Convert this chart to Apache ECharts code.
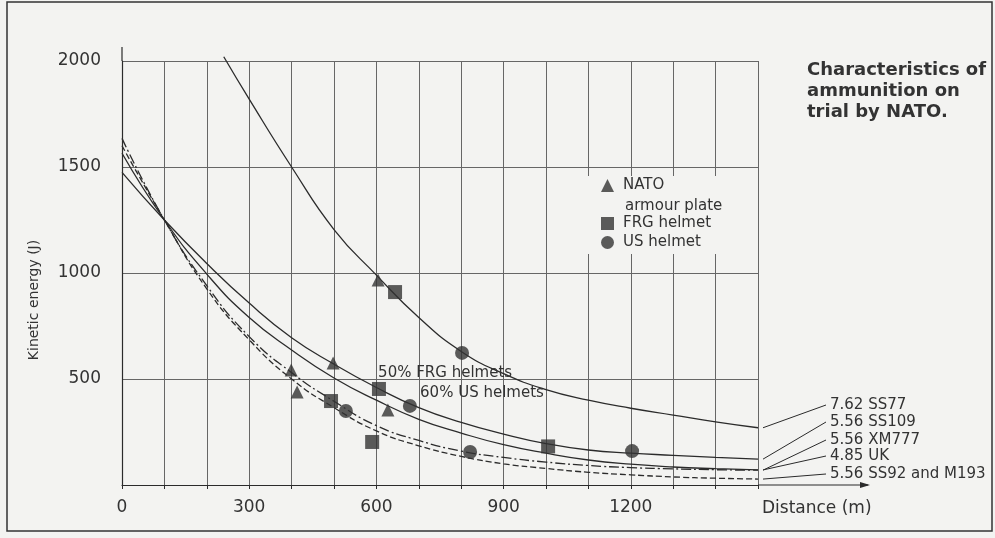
<!DOCTYPE html>
<html><head><meta charset="utf-8">
<script src="https://cdn.jsdelivr.net/npm/echarts@6/dist/echarts.min.js"></script>
<style>html,body{margin:0;padding:0;background:#f3f3f1}#c{width:995px;height:538px}</style>
</head><body><div id="c"></div>
<script>
// ---- data ----
const distance = [0,100,200,300,400,500,600,700,800,900,1000,1100,1200,1300,1400,1500];
const distanceSS77 = [240,300,400,500,600,700,800,900,1000,1100,1200,1300,1400,1500];
const ss77  = [2020,1820,1500,1205,990,790,630,525,450,400,362,330,298,270];
const ss109 = [1475,1250,1045,858,695,570,460,365,295,240,195,165,150,140,130,122];
const uk    = [1565,1250,995,790,637,505,400,310,245,190,150,118,98,85,77,71];
const xm777 = [1635,1250,940,700,530,395,280,210,160,130,108,92,82,76,72,70];
const ss92  = [1600,1250,925,685,500,365,255,185,135,100,78,60,48,38,32,28];

const natoDist = [399,413,498,604,627];
const natoKE   = [542,439,575,967,354];
const frgDist  = [644,606,493,590,1005];
const frgKE    = [910,453,396,203,182];
const usDist   = [802,679,528,821,1203];
const usKE     = [623,373,349,156,160];

const xTickLabels = [0,300,600,900,1200];
const yTickLabels = [500,1000,1500,2000];
const curveLabels = ['7.62 SS77','5.56 SS109','5.56 XM777','4.85 UK','5.56 SS92 and M193'];
const annotations = [['50% FRG helmets',604,528],['60% US helmets',703,434]];

const FONT = 'DejaVu Sans';
const INK = '#2b2b2b';
const zip = (a,b) => a.map((v,i)=>[v,b[i]]);

const lineSeries = (name, xs, ys, type) => ({
  name, type:'line', data: zip(xs, ys), smooth:0.5, symbol:'none', clip:false,
  lineStyle:{color:INK, width:1.3, type}, z:3, silent:true
});

const chart = echarts.init(document.getElementById('c'));
const option = {
  animation:false,
  backgroundColor:'#f3f3f1',
  grid:{left:122, right:237, top:61, bottom:53},
  xAxis:{type:'value', min:0, max:1500, interval:100,
    axisLine:{show:true, lineStyle:{color:INK, width:1.2}},
    axisTick:{show:true, length:4, lineStyle:{color:INK}},
    axisLabel:{margin:14, fontFamily:FONT, fontSize:17, color:'#333',
      formatter:v => xTickLabels.includes(v) ? String(v) : ''},
    splitLine:{show:true, lineStyle:{color:'#666', width:1}}},
  yAxis:{type:'value', min:0, max:2000, interval:500,
    axisLine:{show:true, lineStyle:{color:INK, width:1.2}},
    axisTick:{show:false},
    axisLabel:{margin:21, fontFamily:FONT, fontSize:17, color:'#333',
      formatter:v => yTickLabels.includes(v) ? String(v) : ''},
    splitLine:{show:true, lineStyle:{color:'#666', width:1}}},
  legend:[
    {data:['NATO armour plate'], formatter:()=>'NATO', left:601, top:177, orient:'vertical', padding:0,
     itemWidth:13, itemHeight:13, textStyle:{fontFamily:FONT, fontSize:15, color:'#333', lineHeight:17, padding:[0,0,0,4]}},
    {data:['FRG helmet','US helmet'], left:601, top:215, orient:'vertical', padding:0, itemGap:2,
     itemWidth:13, itemHeight:13, textStyle:{fontFamily:FONT, fontSize:15, color:'#333', lineHeight:17, padding:[0,0,0,4]}}
  ],
  series:[
    lineSeries('7.62 SS77', distanceSS77, ss77, 'solid'),
    lineSeries('5.56 SS109', distance, ss109, 'solid'),
    lineSeries('4.85 UK', distance, uk, 'solid'),
    lineSeries('5.56 XM777', distance, xm777, [10,3,2,3]),
    lineSeries('5.56 SS92 and M193', distance, ss92, [6,3]),
    {name:'NATO armour plate', type:'scatter', symbol:'triangle', symbolSize:13, data:zip(natoDist,natoKE), itemStyle:{color:'#333'}, z:5},
    {name:'FRG helmet', type:'scatter', symbol:'rect', symbolSize:14, data:zip(frgDist,frgKE), itemStyle:{color:'#333'}, z:5},
    {name:'US helmet', type:'scatter', symbol:'circle', symbolSize:14, data:zip(usDist,usKE), itemStyle:{color:'#333'}, z:5}
  ]
};
chart.setOption(option);

const px = p => chart.convertToPixel({gridIndex:0}, p);
const g = [];
// frame
g.push({type:'rect', shape:{x:7,y:2,width:985,height:529}, style:{fill:'none', stroke:'#333', lineWidth:1.5}, z:0});
// legend background
g.push({type:'rect', shape:{x:583,y:176,width:155,height:78}, style:{fill:'#f3f3f1'}, z:1});
g.push({type:'text', left:625, top:199, style:{text:'armour plate', font:'15px "DejaVu Sans"', fill:'#333'}, z:5});
// y axis title
g.push({type:'text', x:34, y:300, rotation:Math.PI/2, style:{text:'Kinetic energy (J)', font:'14px "DejaVu Sans"', fill:'#333', textAlign:'center', textVerticalAlign:'middle', align:'center', verticalAlign:'middle'}, z:5});
// axis extensions
const o = px([0,0]), xe = px([1500,0]), yt = px([0,2000]);
g.push({type:'line', shape:{x1:xe[0], y1:xe[1], x2:868, y2:xe[1]}, style:{stroke:INK, lineWidth:1.2}, z:3});
g.push({type:'polygon', shape:{points:[[870,xe[1]],[860,xe[1]-3],[860,xe[1]+3]]}, style:{fill:INK}, z:3});
g.push({type:'line', shape:{x1:o[0], y1:yt[1], x2:o[0], y2:yt[1]-14}, style:{stroke:INK, lineWidth:1.2}, z:3});
g.push({type:'text', left:762, top:500, style:{text:'Distance (m)', font:'17px "DejaVu Sans"', fill:'#333'}, z:5});
// title
g.push({type:'text', left:807, top:60, style:{text:'Characteristics of\nammunition on\ntrial by NATO.', font:'bold 18px "DejaVu Sans"', lineHeight:21, fill:'#333'}, z:5});
// curve labels with leader lines
const ends = [ss77, ss109, xm777, uk, ss92].map(a => a[a.length-1]);
const labelY = [405,422,440,456,474];
ends.forEach((e,i) => {
  const p = px([1500,e]);
  g.push({type:'line', shape:{x1:p[0]+5, y1:p[1], x2:826, y2:labelY[i]}, style:{stroke:INK, lineWidth:1}, z:3});
  g.push({type:'text', x:830, y:labelY[i], style:{text:curveLabels[i], font:'15px "DejaVu Sans"', fill:'#333', textVerticalAlign:'middle', verticalAlign:'middle'}, z:5});
});
// annotations
annotations.forEach(a => {
  const p = px([a[1],a[2]]);
  g.push({type:'text', x:p[0], y:p[1], style:{text:a[0], font:'15px "DejaVu Sans"', fill:'#333', textVerticalAlign:'middle', verticalAlign:'middle'}, z:5});
});
chart.setOption({graphic:g});
</script></body></html>
